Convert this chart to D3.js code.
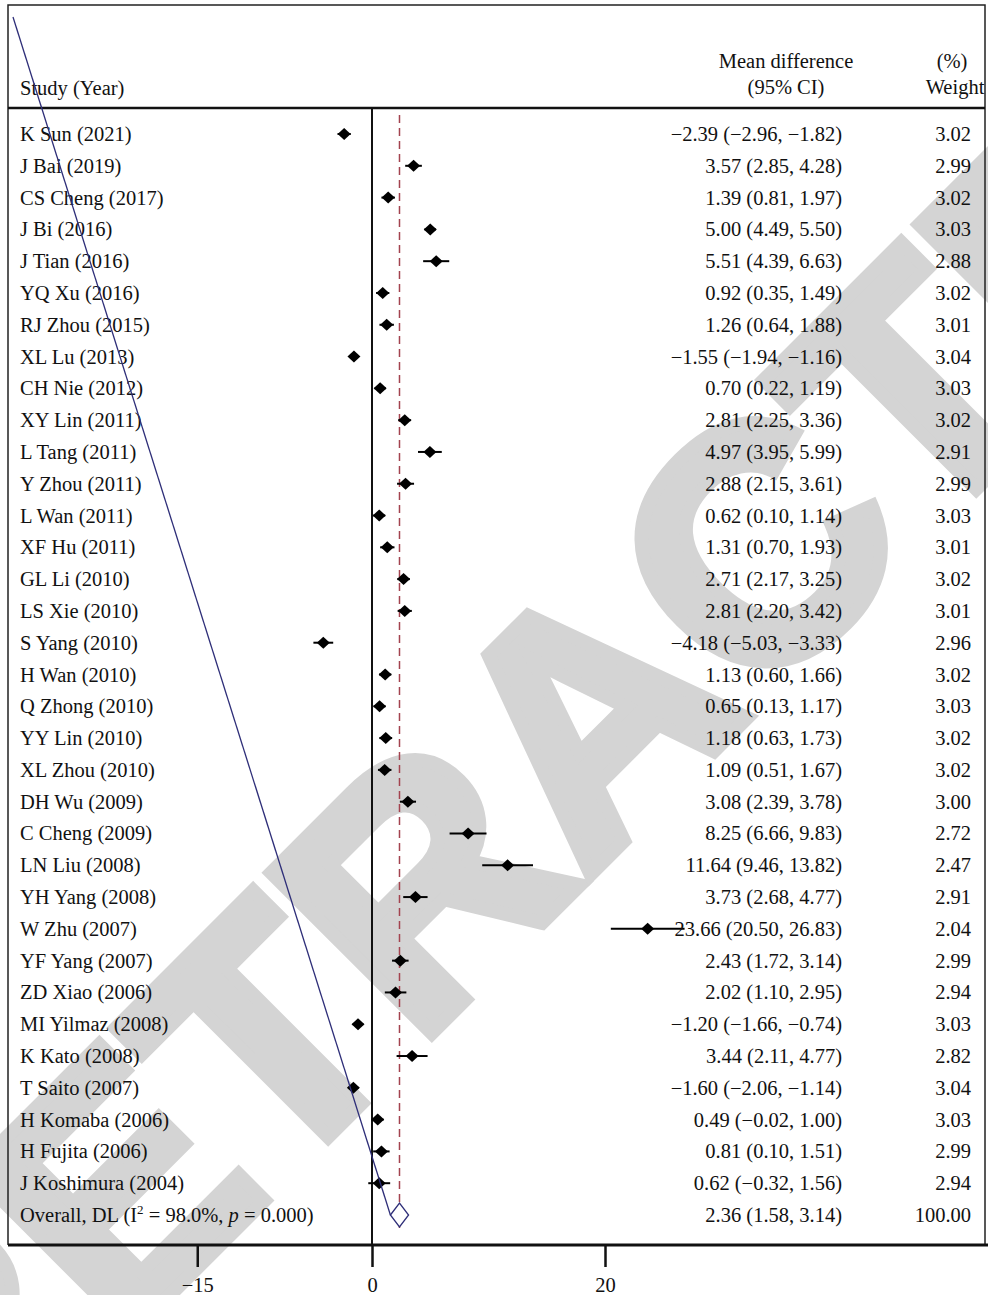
<!DOCTYPE html>
<html>
<head>
<meta charset="utf-8">
</head>
<body style="margin:0;background:#fff">
<script src="https://d3js.org/d3.v7.min.js"></script>
<style>
  text { font-family: "Liberation Serif", "Times New Roman", serif; fill: #111; }
  .axis .domain { display: none; }
  .axis line { stroke: #111; stroke-width: 2.5; }
  .axis text { font-size: 20.5px; font-family: "Liberation Serif", serif; }
</style>
<script>
// forest plot - mean difference per study

const studies = ["K Sun (2021)", "J Bai (2019)", "CS Cheng (2017)", "J Bi (2016)", "J Tian (2016)",
  "YQ Xu (2016)", "RJ Zhou (2015)", "XL Lu (2013)", "CH Nie (2012)", "XY Lin (2011)",
  "L Tang (2011)", "Y Zhou (2011)", "L Wan (2011)", "XF Hu (2011)", "GL Li (2010)",
  "LS Xie (2010)", "S Yang (2010)", "H Wan (2010)", "Q Zhong (2010)", "YY Lin (2010)",
  "XL Zhou (2010)", "DH Wu (2009)", "C Cheng (2009)", "LN Liu (2008)", "YH Yang (2008)",
  "W Zhu (2007)", "YF Yang (2007)", "ZD Xiao (2006)", "MI Yilmaz (2008)", "K Kato (2008)",
  "T Saito (2007)", "H Komaba (2006)", "H Fujita (2006)", "J Koshimura (2004)"];

const md = [-2.39, 3.57, 1.39, 5.00, 5.51, 0.92, 1.26, -1.55, 0.70, 2.81,
  4.97, 2.88, 0.62, 1.31, 2.71, 2.81, -4.18, 1.13, 0.65, 1.18,
  1.09, 3.08, 8.25, 11.64, 3.73, 23.66, 2.43, 2.02, -1.20, 3.44,
  -1.60, 0.49, 0.81, 0.62];

const lower = [-2.96, 2.85, 0.81, 4.49, 4.39, 0.35, 0.64, -1.94, 0.22, 2.25,
  3.95, 2.15, 0.10, 0.70, 2.17, 2.20, -5.03, 0.60, 0.13, 0.63,
  0.51, 2.39, 6.66, 9.46, 2.68, 20.50, 1.72, 1.10, -1.66, 2.11,
  -2.06, -0.02, 0.10, -0.32];

const upper = [-1.82, 4.28, 1.97, 5.50, 6.63, 1.49, 1.88, -1.16, 1.19, 3.36,
  5.99, 3.61, 1.14, 1.93, 3.25, 3.42, -3.33, 1.66, 1.17, 1.73,
  1.67, 3.78, 9.83, 13.82, 4.77, 26.83, 3.14, 2.95, -0.74, 4.77,
  -1.14, 1.00, 1.51, 1.56];

const weights = [3.02, 2.99, 3.02, 3.03, 2.88, 3.02, 3.01, 3.04, 3.03, 3.02,
  2.91, 2.99, 3.03, 3.01, 3.02, 3.01, 2.96, 3.02, 3.03, 3.02,
  3.02, 3.00, 2.72, 2.47, 2.91, 2.04, 2.99, 2.94, 3.03, 2.82,
  3.04, 3.03, 2.99, 2.94];

const overall = {md: 2.36, lo: 1.58, hi: 3.14, weight: 100.00};
const xTicks = [-15, 0, 20];

const width = 988, height = 1295;
const box = {left: 8, top: 5, right: 985, header: 108, bottom: 1245};
const fs = "20.5px";

const svg = d3.select("body").append("svg")
    .attr("width", width)
    .attr("height", height);

// watermark behind everything
svg.append("text")
    .attr("transform", "translate(585,712) rotate(-45)")
    .attr("text-anchor", "middle")
    .attr("dy", "0.36em")
    .style("font-family", "'Liberation Sans', Arial, sans-serif")
    .style("font-weight", "bold")
    .style("font-size", "330px")
    .style("fill", "#d4d4d4")
    .style("stroke", "#d4d4d4")
    .style("stroke-width", 14)
    .style("stroke-linejoin", "miter")
    .text("RETRACTED");

const x = d3.scaleLinear()
    .domain([0, 20])
    .range([372, 605]);

const rows = d3.range(studies.length + 1);
const y = d3.scalePoint()
    .domain(rows)
    .range([134, 1215]);

const fmt = d3.format(".2f");
const ciText = (m, l, h) => `${fmt(m)} (${fmt(l)}, ${fmt(h)})`;

const data = studies.map((s, i) => ({name: s, md: md[i], lo: lower[i], hi: upper[i], w: weights[i], i: i}));

// frame
const frame = svg.append("g");
frame.append("path")
    .attr("d", `M${box.left},${box.bottom}V${box.top}H${box.right}V${box.bottom}`)
    .attr("fill", "none")
    .attr("stroke", "#222")
    .attr("stroke-width", 1.5);
frame.append("line")
    .attr("x1", box.left).attr("x2", box.right)
    .attr("y1", box.header).attr("y2", box.header)
    .attr("stroke", "#111").attr("stroke-width", 2.5);
frame.append("line")
    .attr("x1", box.left).attr("x2", width)
    .attr("y1", box.bottom).attr("y2", box.bottom)
    .attr("stroke", "#111").attr("stroke-width", 3);

// headers
svg.append("text").attr("x", 20).attr("y", 95).style("font-size", fs).text("Study (Year)");
svg.append("text").attr("x", 786).attr("y", 68).attr("text-anchor", "middle").style("font-size", fs).text("Mean difference");
svg.append("text").attr("x", 786).attr("y", 94).attr("text-anchor", "middle").style("font-size", fs).text("(95% CI)");
svg.append("text").attr("x", 952).attr("y", 68).attr("text-anchor", "middle").style("font-size", fs).text("(%)");
svg.append("text").attr("x", 955).attr("y", 94).attr("text-anchor", "middle").style("font-size", fs).text("Weight");

// null line
svg.append("line")
    .attr("x1", x(0)).attr("x2", x(0))
    .attr("y1", box.header).attr("y2", box.bottom)
    .attr("stroke", "#111").attr("stroke-width", 2);

// overall dashed line
svg.append("line")
    .attr("x1", x(overall.md)).attr("x2", x(overall.md))
    .attr("y1", 115).attr("y2", y(studies.length) + 13)
    .attr("stroke", "#a3434f").attr("stroke-width", 1.5)
    .attr("stroke-dasharray", "8,5");

// study rows
const row = svg.selectAll(".row")
  .data(data)
  .enter().append("g")
    .attr("class", "row");

row.append("text")
    .attr("x", 20)
    .attr("y", d => y(d.i) + 7)
    .style("font-size", fs)
    .text(d => d.name);

row.append("line")
    .attr("x1", d => x(d.lo)).attr("x2", d => x(d.hi))
    .attr("y1", d => y(d.i)).attr("y2", d => y(d.i))
    .attr("stroke", "#000").attr("stroke-width", 2);

row.append("path")
    .attr("d", d => {
      const cx = x(d.md), cy = y(d.i);
      return `M${cx - 6.5},${cy}L${cx},${cy - 6}L${cx + 6.5},${cy}L${cx},${cy + 6}Z`;
    })
    .attr("fill", "#000");

row.append("text")
    .attr("x", 842)
    .attr("y", d => y(d.i) + 7)
    .attr("text-anchor", "end")
    .style("font-size", fs)
    .text(d => ciText(d.md, d.lo, d.hi));

row.append("text")
    .attr("x", 971)
    .attr("y", d => y(d.i) + 7)
    .attr("text-anchor", "end")
    .style("font-size", fs)
    .text(d => fmt(d.w));

// overall row
const oy = y(studies.length);
const ov = svg.append("text")
    .attr("x", 20)
    .attr("y", oy + 7)
    .style("font-size", fs);
ov.append("tspan").text("Overall, DL (I");
ov.append("tspan").attr("dy", -8).style("font-size", "13px").text("2");
ov.append("tspan").attr("dy", 8).text(" = 98.0%, ");
ov.append("tspan").style("font-style", "italic").text("p");
ov.append("tspan").text(" = 0.000)");

svg.append("text")
    .attr("x", 842).attr("y", oy + 7)
    .attr("text-anchor", "end")
    .style("font-size", fs)
    .text(ciText(overall.md, overall.lo, overall.hi));
svg.append("text")
    .attr("x", 971).attr("y", oy + 7)
    .attr("text-anchor", "end")
    .style("font-size", fs)
    .text(fmt(overall.weight));

// stray outline segment running into the summary diamond
svg.append("path")
    .attr("d", `M13,17L${x(overall.lo)},${oy}`)
    .attr("fill", "none")
    .attr("stroke", "#2e2e78")
    .attr("stroke-width", 1.3);

svg.append("path")
    .attr("d", `M${x(overall.lo)},${oy}L${x(overall.md)},${oy - 12}L${x(overall.hi)},${oy}L${x(overall.md)},${oy + 12}Z`)
    .attr("fill", "#fff")
    .attr("stroke", "#2e2e78")
    .attr("stroke-width", 1.3);

// axis
const xAxis = d3.axisBottom(x)
    .tickValues(xTicks)
    .tickSize(22)
    .tickPadding(10)
    .tickFormat(d3.format("d"));

svg.append("g")
    .attr("class", "axis")
    .attr("transform", `translate(0,${box.bottom})`)
    .call(xAxis);
</script>
</body>
</html>
